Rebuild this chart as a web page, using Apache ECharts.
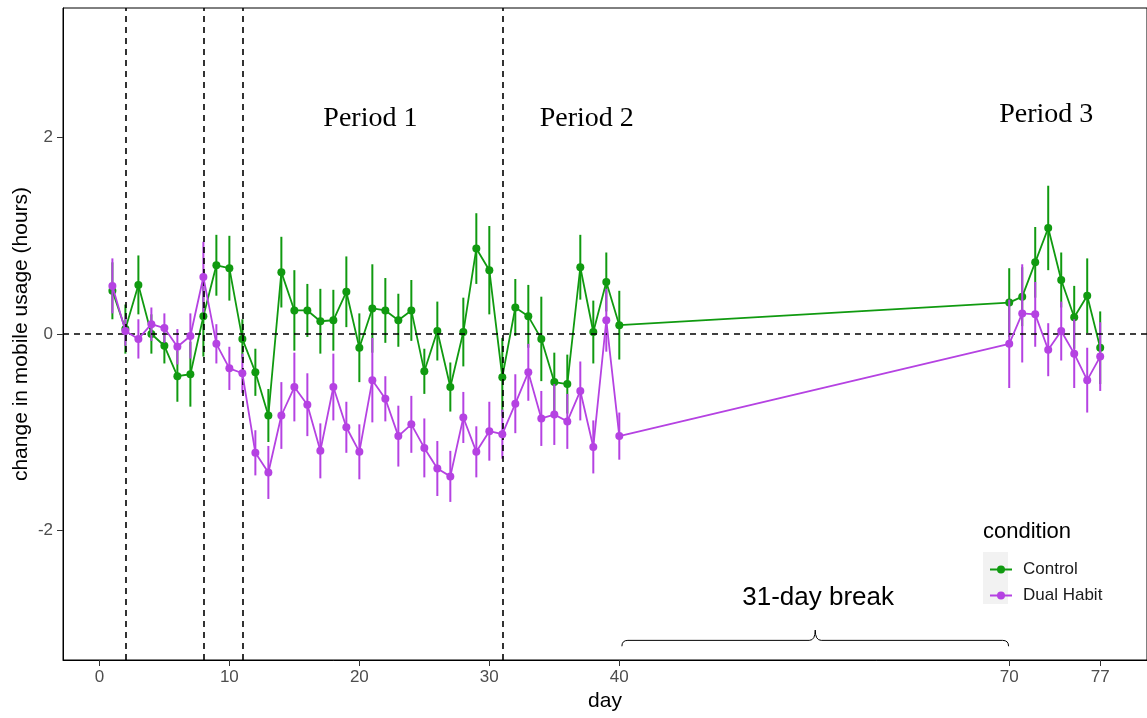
<!DOCTYPE html>
<html>
<head>
<meta charset="utf-8">
<script src="https://cdn.jsdelivr.net/npm/echarts@6/dist/echarts.min.js"></script>
<style>
html,body{margin:0;padding:0;background:#fff;}
#c{width:1147px;height:718px;}
</style>
</head>
<body>
<div id="c"></div>
<script>
// ---- data ----
const days = [1,2,3,4,5,6,7,8,9,10,11,12,13,14,15,16,17,18,19,20,21,22,23,24,25,26,27,28,29,30,31,32,33,34,35,36,37,38,39,40,70,71,72,73,74,75,76,77];
const controlMean = [0.44,0.05,0.50,0.00,-0.12,-0.43,-0.41,0.18,0.70,0.67,-0.05,-0.39,-0.83,0.63,0.24,0.24,0.13,0.14,0.43,-0.14,0.26,0.24,0.14,0.24,-0.38,0.03,-0.54,0.02,0.87,0.65,-0.44,0.27,0.18,-0.05,-0.49,-0.51,0.68,0.02,0.53,0.09,0.32,0.38,0.73,1.08,0.55,0.17,0.39,-0.14];
const controlErr = [0.29,0.25,0.30,0.20,0.18,0.26,0.33,0.41,0.31,0.33,0.20,0.24,0.27,0.36,0.41,0.27,0.33,0.31,0.36,0.35,0.45,0.33,0.27,0.31,0.23,0.30,0.25,0.35,0.36,0.45,0.40,0.29,0.32,0.43,0.30,0.30,0.33,0.32,0.30,0.35,0.35,0.30,0.36,0.43,0.28,0.32,0.38,0.37];
const dualMean = [0.49,0.03,-0.05,0.10,0.06,-0.13,-0.02,0.58,-0.10,-0.35,-0.40,-1.21,-1.41,-0.83,-0.54,-0.72,-1.19,-0.54,-0.95,-1.20,-0.47,-0.66,-1.04,-0.92,-1.16,-1.37,-1.45,-0.85,-1.20,-0.99,-1.02,-0.71,-0.39,-0.86,-0.82,-0.89,-0.58,-1.15,0.14,-1.04,-0.10,0.21,0.20,-0.16,0.03,-0.20,-0.47,-0.23];
const dualErr = [0.28,0.15,0.20,0.17,0.15,0.18,0.23,0.36,0.20,0.22,0.20,0.23,0.27,0.34,0.35,0.32,0.28,0.34,0.26,0.28,0.43,0.23,0.31,0.29,0.30,0.28,0.26,0.26,0.26,0.30,0.25,0.30,0.29,0.28,0.31,0.28,0.30,0.27,0.32,0.24,0.45,0.50,0.33,0.27,0.30,0.35,0.33,0.35];
const xTicks = [0,10,20,30,40,70,77];
const yTicks = [-2,0,2];
const phaseLines = [2,8,11,31];
const periodNames = ['Period 1','Period 2','Period 3'];
const breakLabel = '31-day break';
const breakRange = [40,70];

const GREEN = '#109a10';
const PURPLE = '#b542e2';

function pts(mean){ return days.map((d,i)=>[d, mean[i]]); }
function bars(mean, err){ return days.map((d,i)=>[d, mean[i]-err[i], mean[i]+err[i]]); }

function errRender(color){
  return function(params, api){
    const x = api.value(0);
    const p1 = api.coord([x, api.value(1)]);
    const p2 = api.coord([x, api.value(2)]);
    return {type:'line', shape:{x1:p1[0],y1:p1[1],x2:p2[0],y2:p2[1]}, style:{stroke:color, lineWidth:2}};
  };
}

const chart = echarts.init(document.getElementById('c'), null, {renderer:'canvas'});
const sans = 'Liberation Sans, Arial, sans-serif';
const serif = 'Liberation Serif, Times New Roman, serif';

const periodPos = [[20.85,2.19],[37.5,2.19],[72.85,2.23]];

const option = {
  animation:false,
  backgroundColor:'#fff',
  grid:{left:63, top:8, right:0, bottom:58, show:true, borderColor:'#000', borderWidth:1, containLabel:false, outerBoundsMode:'none'},
  xAxis:{
    type:'value', min:-2.8, max:80.6,
    name:'day', nameLocation:'middle', nameGap:31, nameMoveOverlap:false,
    nameTextStyle:{fontFamily:sans, fontSize:21, color:'#000'},
    axisLine:{show:true, onZero:false, lineStyle:{color:'#000', width:1}},
    axisTick:{show:true, customValues:xTicks, length:6, lineStyle:{color:'#333'}},
    axisLabel:{customValues:xTicks, fontFamily:sans, fontSize:17, color:'#4d4d4d', margin:9},
    splitLine:{show:false}
  },
  yAxis:{
    type:'value', min:-3.32, max:3.32,
    name:'change in mobile usage (hours)', nameLocation:'middle', nameGap:31, nameMoveOverlap:false,
    nameTextStyle:{fontFamily:sans, fontSize:21, color:'#000'},
    axisLine:{show:true, onZero:false, lineStyle:{color:'#000', width:1}},
    axisTick:{show:true, customValues:yTicks, length:6, lineStyle:{color:'#333'}},
    axisLabel:{customValues:yTicks, fontFamily:sans, fontSize:17, color:'#4d4d4d', margin:10},
    splitLine:{show:false}
  },
  legend:{
    orient:'vertical', left:984, top:556, itemGap:9, itemWidth:22, itemHeight:10,
    textStyle:{fontFamily:sans, fontSize:17, color:'#1a1a1a', padding:[0,0,0,6]},
    data:['Control','Dual Habit']
  },
  graphic:[
    {type:'rect', left:983, top:552, shape:{width:25, height:52}, style:{fill:'#f2f2f2'}, z:-1},
    {type:'text', left:983, top:521, style:{text:'condition', font:'22px '+sans, fill:'#000'}}
  ],
  series:[
    {type:'custom', name:'ctrlErr', renderItem:errRender(GREEN), data:bars(controlMean, controlErr), z:2, silent:true},
    {type:'line', name:'Control', data:pts(controlMean), color:GREEN, symbol:'circle', symbolSize:8,
     lineStyle:{width:1.8, color:GREEN}, itemStyle:{color:GREEN}, z:3,
     markLine:{silent:true, symbol:['none','none'], label:{show:false},
       lineStyle:{color:'#000', type:[6,5], width:1.6},
       data: phaseLines.map(v=>({xAxis:v})).concat([{yAxis:0}])}
    },
    {type:'custom', name:'dualErr', renderItem:errRender(PURPLE), data:bars(dualMean, dualErr), z:4, silent:true},
    {type:'line', name:'Dual Habit', data:pts(dualMean), color:PURPLE, symbol:'circle', symbolSize:8,
     lineStyle:{width:1.8, color:PURPLE}, itemStyle:{color:PURPLE}, z:5},
    {type:'custom', name:'periods', silent:true, z:6,
     data: periodNames.map((t,i)=>[periodPos[i][0], periodPos[i][1], i]),
     renderItem:function(params, api){
       const p = api.coord([api.value(0), api.value(1)]);
       return {type:'text', x:p[0], y:p[1], style:{text:periodNames[api.value(2)], font:'28px '+serif, fill:'#000', align:'center', verticalAlign:'middle'}};
     }
    },
    {type:'custom', name:'brace', silent:true, z:6,
     data:[[breakRange[0], breakRange[1]]],
     renderItem:function(params, api){
       const a = api.coord([api.value(0)+0.2, -3.18]);
       const b = api.coord([api.value(1)-0.05, -3.18]);
       const yMid = api.coord([0,-3.12])[1];
       const yTip = api.coord([0,-3.015])[1];
       const cx = (a[0]+b[0])/2;
       const lbl = api.coord([(api.value(0)+api.value(1))/2+0.3, -2.69]);
       const r = 6;
       const path = 'M'+a[0]+' '+a[1]+' Q'+a[0]+' '+yMid+' '+(a[0]+r)+' '+yMid+
         ' L'+(cx-r)+' '+yMid+' Q'+cx+' '+yMid+' '+cx+' '+yTip+
         ' Q'+cx+' '+yMid+' '+(cx+r)+' '+yMid+
         ' L'+(b[0]-r)+' '+yMid+' Q'+b[0]+' '+yMid+' '+b[0]+' '+b[1];
       return {type:'group', children:[
         {type:'path', shape:{pathData:path}, style:{stroke:'#000', lineWidth:1, fill:null}},
         {type:'text', x:lbl[0], y:lbl[1], style:{text:breakLabel, font:'26px '+sans, fill:'#000', align:'center', verticalAlign:'middle'}}
       ]};
     }
    }
  ]
};
chart.setOption(option);
</script>
</body>
</html>
